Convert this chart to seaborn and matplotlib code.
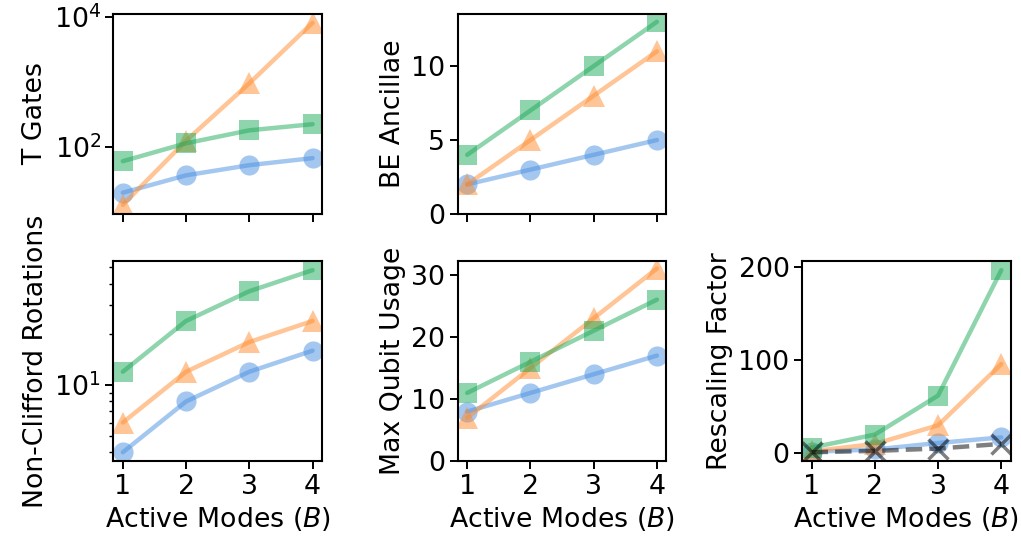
import numpy as np
import pandas as pd
import seaborn as sns
import matplotlib
matplotlib.use("Agg")
import matplotlib.pyplot as plt
from matplotlib.ticker import NullLocator, FixedLocator, LogFormatterSciNotation

modes = [1, 2, 3, 4]

t_gates_blue = [20, 37, 53, 68]
t_gates_orange = [13, 126, 960, 8200]
t_gates_green = [61, 115, 182, 226]

be_anc_blue = [2, 3, 4, 5]
be_anc_orange = [2, 5, 8, 11]
be_anc_green = [4, 7, 10, 13]

rot_blue = [4, 8, 12, 16]
rot_orange = [6, 12, 18, 24]
rot_green = [12, 24, 36, 48]

qubit_blue = [8, 11, 14, 17]
qubit_orange = [7, 15, 23, 31]
qubit_green = [11, 16, 21, 26]

rescale_blue = [1.5, 4, 11, 17]
rescale_orange = [2, 10, 30, 96]
rescale_green = [6, 20, 62, 197]
rescale_ref = [1, 2.5, 5, 10]

be_ticks = [0, 5, 10]
qubit_ticks = [0, 10, 20, 30]
rescale_ticks = [0, 100, 200]

xlabel = "Active Modes ($B$)"

BLUE = "#4A90E2"
ORANGE = "#FF8C2E"
GREEN = "#1FAA5A"

sns.set_style("ticks")
plt.rcParams["font.family"] = ["DejaVu Sans"]
plt.rcParams.update({
    "font.size": 19.3,
    "axes.linewidth": 1.5,
    "xtick.major.width": 1.4,
    "ytick.major.width": 1.4,
    "xtick.minor.width": 1.0,
    "ytick.minor.width": 1.0,
    "xtick.major.size": 5.5,
    "ytick.major.size": 5.5,
    "ytick.minor.size": 3.2,
    "axes.edgecolor": "black",
    "xtick.color": "black",
    "ytick.color": "black",
    "axes.labelcolor": "black",
    "text.color": "black",
})

fig, axes = plt.subplots(2, 3, figsize=(10.21, 5.46), dpi=100)
fig.subplots_adjust(left=0.111, right=0.99, bottom=0.155, top=0.975,
                    wspace=0.65, hspace=0.235)


def draw(ax, b, o, g):
    specs = [(b, BLUE, "o", 14.5), (o, ORANGE, "^", 15.5), (g, GREEN, "s", 14.5)]
    for vals, col, mk, ms in specs:
        df = pd.DataFrame({"B": modes, "v": vals})
        sns.lineplot(data=df, x="B", y="v", ax=ax, color=col, marker=mk,
                     markersize=ms, markeredgewidth=0, linewidth=3.2,
                     alpha=0.5)
    ax.set_xticks(modes)
    ax.set_xlim(0.85, 4.15)
    for s in ax.spines.values():
        s.set_visible(True)
        s.set_linewidth(1.5)


ax = axes[0, 0]
draw(ax, t_gates_blue, t_gates_orange, t_gates_green)
ax.set_yscale("log")
ax.yaxis.set_major_locator(FixedLocator([1e2, 1e4]))
ax.yaxis.set_major_formatter(LogFormatterSciNotation())
ax.yaxis.set_minor_locator(NullLocator())
ax.set_ylabel("T Gates")
ax.set_xlabel("")
ax.tick_params(labelbottom=False)

ax = axes[0, 1]
draw(ax, be_anc_blue, be_anc_orange, be_anc_green)
ax.set_ylim(bottom=0)
ax.set_yticks(be_ticks)
ax.set_ylabel("BE Ancillae")
ax.set_xlabel("")
ax.tick_params(labelbottom=False)

axes[0, 2].axis("off")

ax = axes[1, 0]
draw(ax, rot_blue, rot_orange, rot_green)
ax.set_yscale("log")
ax.set_ylabel("Non-Clifford Rotations")
ax.set_xlabel(xlabel)

ax = axes[1, 1]
draw(ax, qubit_blue, qubit_orange, qubit_green)
ax.set_ylim(bottom=0)
ax.set_yticks(qubit_ticks)
ax.set_ylabel("Max Qubit Usage")
ax.set_xlabel(xlabel)

ax = axes[1, 2]
draw(ax, rescale_blue, rescale_orange, rescale_green)
df = pd.DataFrame({"B": modes, "v": rescale_ref})
sns.lineplot(data=df, x="B", y="v", ax=ax, color="black", marker="x",
             markersize=15, markeredgewidth=2.5, markeredgecolor="black",
             linewidth=3.2, linestyle="--", alpha=0.5, zorder=5)
ax.set_yticks(rescale_ticks)
ax.set_ylabel("Rescaling Factor")
ax.set_xlabel(xlabel)

fig.savefig("out.png", dpi=100)
